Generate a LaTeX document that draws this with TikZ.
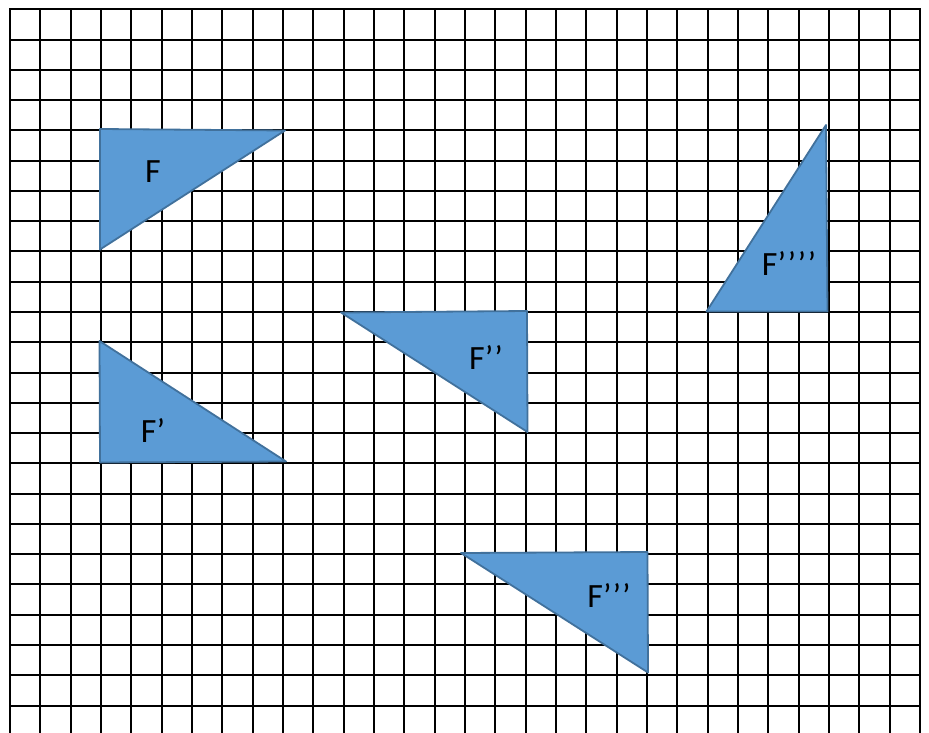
\documentclass[tikz,border=0pt]{standalone}
\usepackage{fontspec}
\setmainfont{Carlito}
\definecolor{trifill}{HTML}{5B9BD5}
\definecolor{tristroke}{HTML}{41719C}
\begin{document}
\begin{tikzpicture}[x=1pt,y=-1pt,
  gridline/.style={black,line width=2pt},
  tri/.style={fill=trifill,draw=tristroke,line width=1.8pt,line join=round},
  lbl/.style={font=\fontsize{34}{38}\selectfont,text=black,inner sep=0pt}]
\useasboundingbox (0,0) rectangle (929,733);
\fill[white] (0,0) rectangle (929,733);
% vertical grid lines
\foreach \i in {0,...,30}{
  \pgfmathsetmacro{\xx}{round(10+30.333*\i)}
  \draw[gridline] (\xx,9) -- (\xx,733);
}
% horizontal grid lines
\foreach \j in {0,...,23}{
  \pgfmathsetmacro{\yy}{round(9.3+30.27*\j)}
  \draw[gridline] (9,\yy) -- (921,\yy);
}
% triangles
\draw[tri] (100,129) -- (285,130.5) -- (100,249.5) -- cycle;
\node[lbl] (f1) at (153,172) {F};
\draw[tri] (99.5,341) -- (100,462.5) -- (286,461.5) -- cycle;
\node[lbl] (f2) at (153,431) {F’};
\draw[tri] (341,312.5) -- (527,311) -- (527.5,432) -- cycle;
\node[lbl] (f3) at (486,358) {F’\kern1pt’};
\draw[tri] (461,553) -- (647.5,552) -- (648,672.5) -- cycle;
\node[lbl] (f4) at (609,596) {F’\kern1pt’\kern1pt’};
\draw[tri] (706.5,311.5) -- (826,125) -- (827.5,311.5) -- cycle;
\node[lbl] (f5) at (789,264) {F’\kern1.5pt’\kern1.5pt’\kern1.5pt’};
\end{tikzpicture}
\end{document}
